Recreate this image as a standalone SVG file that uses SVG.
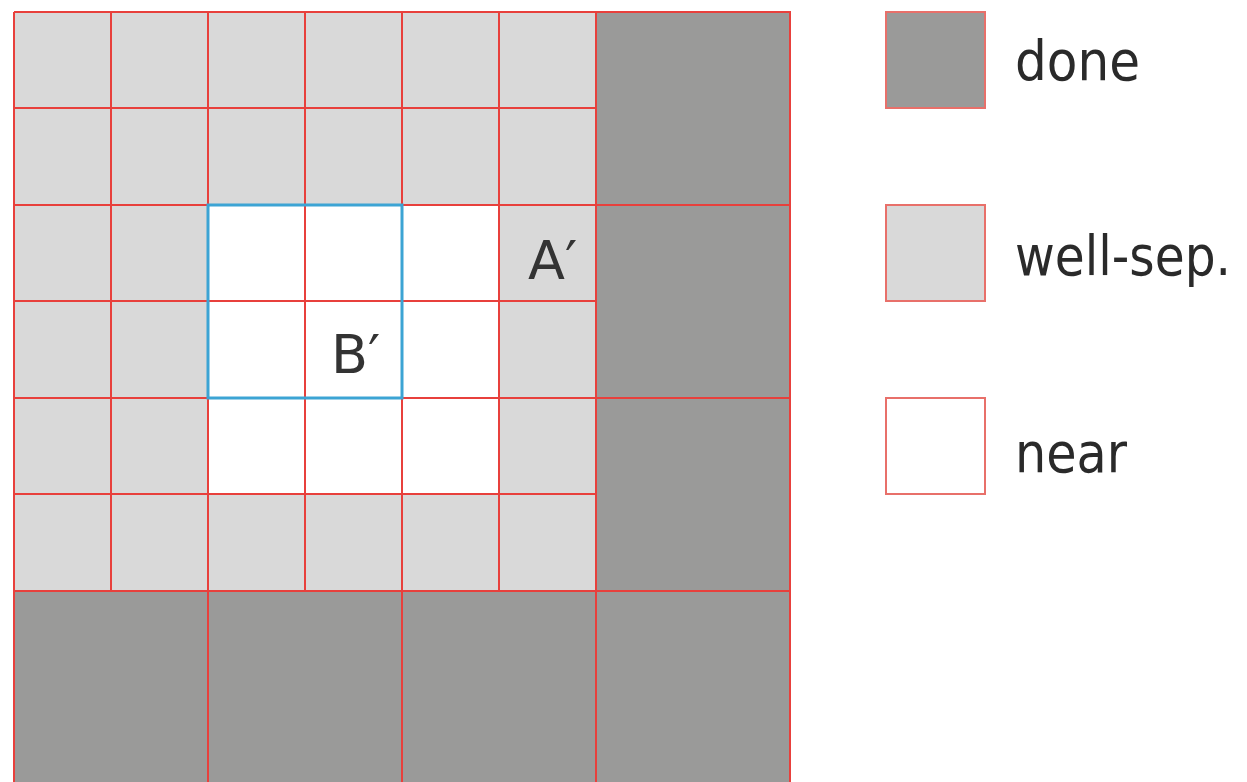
<svg xmlns="http://www.w3.org/2000/svg" width="1247" height="782" viewBox="0 0 1247 782">
<style>
.done{fill:#9a9a99}
.well{fill:#d9d9d9}
.near{fill:#ffffff}
.grid{stroke:#e8403c;stroke-width:2;fill:none}
.box{stroke:#e8706a;stroke-width:2}
.lbl{font-family:"DejaVu Sans Condensed","DejaVu Sans",sans-serif;font-size:56px;fill:#2a2a2a}
.cell{font-family:"DejaVu Sans",Verdana,sans-serif;font-size:54px;fill:#333}
</style>
<rect width="1247" height="782" fill="#ffffff"/>
<g id="grid">
<rect class="well" x="14" y="12" width="582" height="579"/>
<rect class="near" x="208" y="205" width="291" height="289"/>
<rect class="done" x="596" y="12" width="194" height="770"/>
<rect class="done" x="14" y="591" width="776" height="191"/>
<path class="grid" d="M14 12H790V782M14 12V782M111 12V591M208 12V782M305 12V591M402 12V782M499 12V591M596 12V782M14 108H596M14 205H790M14 301H596M14 398H790M14 494H596M14 591H790"/>
<rect x="208" y="205" width="194" height="193" fill="none" stroke="#3ca4d4" stroke-width="3"/>
<text class="cell" x="528" y="279">A′</text>
<text class="cell" x="331" y="373">B′</text>
</g>
<g id="legend-done">
<rect class="done box" x="886" y="12" width="99" height="96"/>
<text class="lbl" x="1015" y="80" textLength="125" lengthAdjust="spacingAndGlyphs">done</text>
</g>
<g id="legend-well">
<rect class="well box" x="886" y="205" width="99" height="96"/>
<text class="lbl" x="1015" y="275" textLength="216" lengthAdjust="spacingAndGlyphs">well-sep.</text>
</g>
<g id="legend-near">
<rect class="near box" x="886" y="398" width="99" height="96"/>
<text class="lbl" x="1015" y="472" textLength="112" lengthAdjust="spacingAndGlyphs">near</text>
</g>
</svg>
